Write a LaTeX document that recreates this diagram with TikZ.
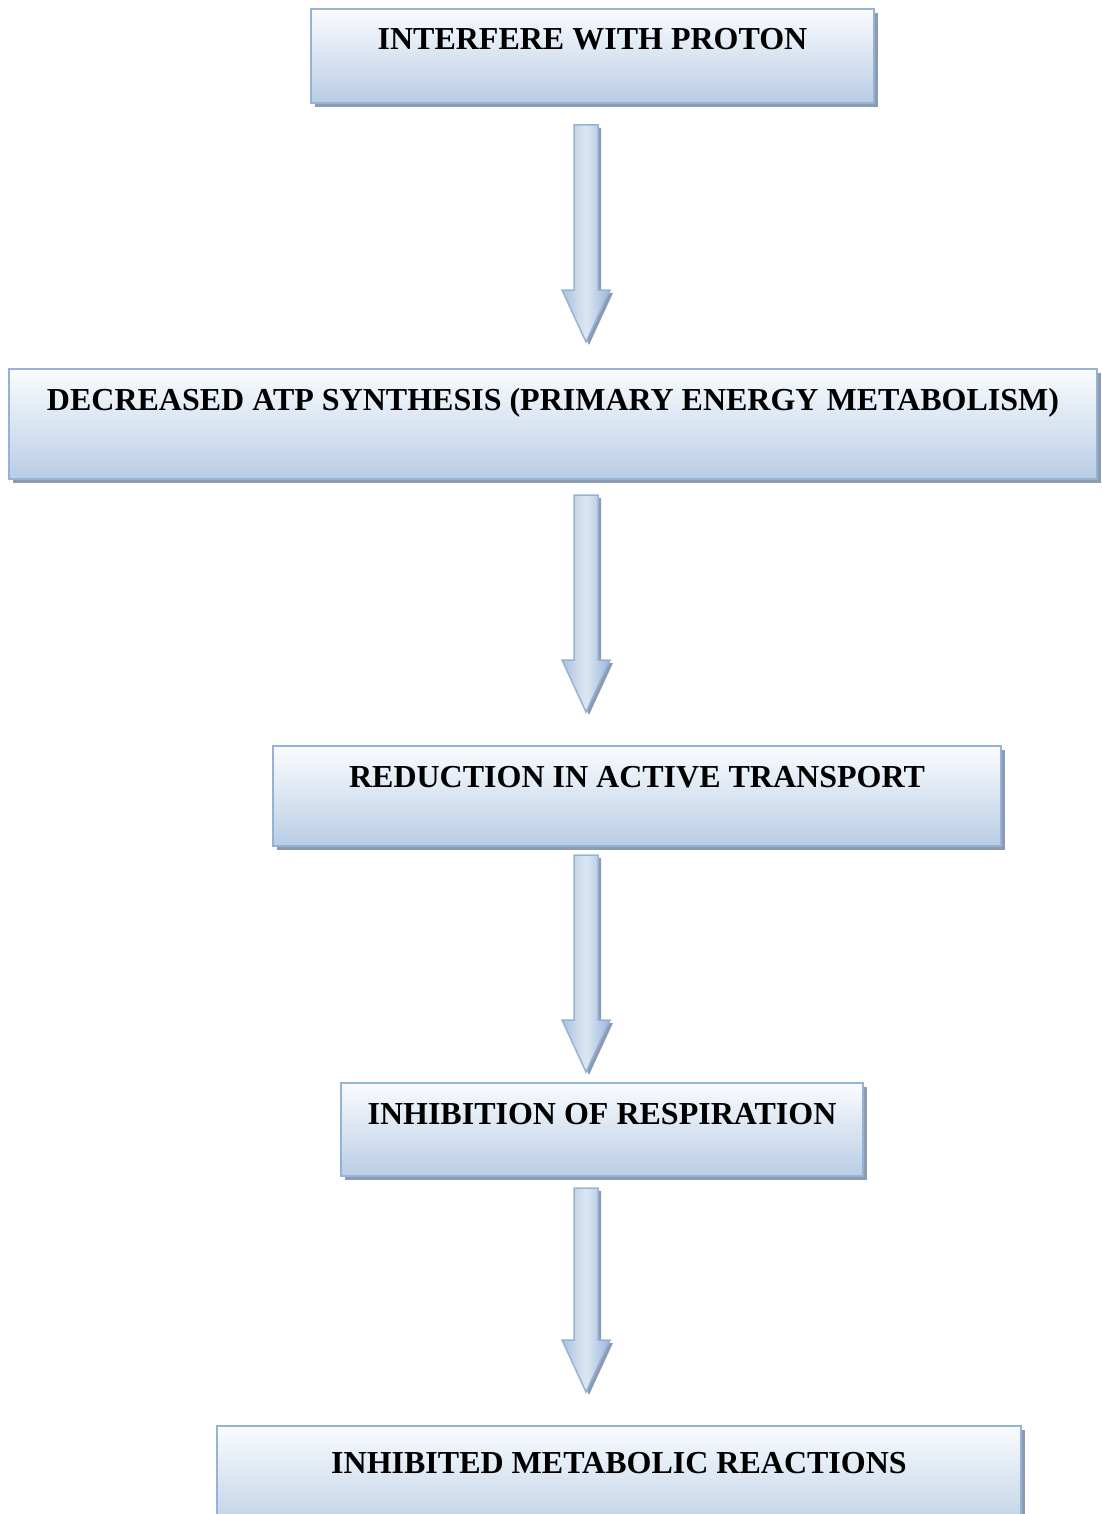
\documentclass[tikz,border=0pt]{standalone}
\usepackage{fontspec}
\setmainfont{Liberation Serif}
\usetikzlibrary{shadows,calc}
\definecolor{bordc}{HTML}{95B3D7}
\definecolor{topc}{HTML}{FAFCFE}
\definecolor{botc}{HTML}{B9CDE5}
\definecolor{shadc}{HTML}{8D9BB0}
\definecolor{arrl}{HTML}{A9C0DF}
\definecolor{arrm}{HTML}{DDE7F3}
\definecolor{arrr}{HTML}{9BB5D8}
\tikzset{
 flowbox/.style={draw=bordc, line width=2pt, top color=topc, bottom color=botc,
   inner xsep=0pt, inner ysep=0pt, anchor=north west, text height=41pt,
   font=\fontsize{32}{38}\selectfont\bfseries,
   general shadow={shadow xshift=4pt, shadow yshift=-4pt, fill=shadc}},
 blockarr/.style={draw=bordc, line width=1.5pt, left color=arrl, right color=arrr,
   middle color=arrm, line join=miter,
   general shadow={shadow xshift=3pt, shadow yshift=-3pt, fill=shadc}},
}
\newcommand\blockarrow[2]{\draw[blockarr] let \p1=(#1), \p2=(#2) in
  (\x1-12pt,\y1) -- (\x1+12pt,\y1) -- (\x1+12pt,\y2+52pt) -- (\x1+24pt,\y2+52pt)
  -- (\x2,\y2) -- (\x1-24pt,\y2+52pt) -- (\x1-12pt,\y2+52pt) -- cycle;}
\begin{document}
\begin{tikzpicture}[x=1pt,y=1pt]
\useasboundingbox (0,0) rectangle (1102,-1514);
\node[flowbox, minimum width=563pt, text depth=53pt] (b1) at (310,-8) {INTERFERE WITH PROTON};
\node[flowbox, minimum width=1088pt, text depth=69pt] (b2) at (8,-368) {DECREASED ATP SYNTHESIS (PRIMARY ENERGY METABOLISM)};
\node[flowbox, minimum width=728pt, text depth=59pt] (b3) at (272,-745) {REDUCTION IN ACTIVE TRANSPORT};
\node[flowbox, minimum width=522pt, text depth=52pt] (b4) at (340,-1082) {INHIBITION OF RESPIRATION};
\node[flowbox, minimum width=804pt, text height=47pt, text depth=63pt] (b5) at (216,-1425) {INHIBITED METABOLIC REACTIONS};
\coordinate (a1s) at (586,-125); \coordinate (a1e) at (586,-342);
\coordinate (a2s) at (586,-495); \coordinate (a2e) at (586,-712);
\coordinate (a3s) at (586,-855); \coordinate (a3e) at (586,-1072);
\coordinate (a4s) at (586,-1188); \coordinate (a4e) at (586,-1392);
\blockarrow{a1s}{a1e}
\blockarrow{a2s}{a2e}
\blockarrow{a3s}{a3e}
\blockarrow{a4s}{a4e}
\end{tikzpicture}
\end{document}
